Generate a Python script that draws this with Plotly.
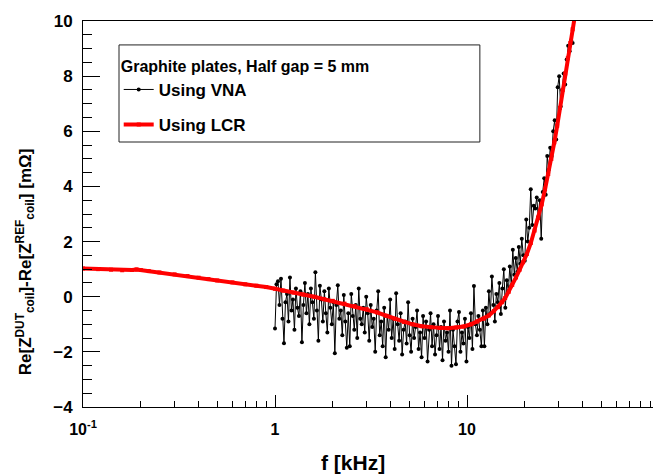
import numpy as np
import plotly.graph_objects as go

# ---------------- data ----------------
# LCR measurement (frequency in kHz, value in mOhm)
lcr_f = [0.1, 0.12, 0.14, 0.16, 0.18, 0.19, 0.2, 0.22, 0.25, 0.3, 0.35, 0.4, 0.45,
         0.5, 0.6, 0.7, 0.8, 0.9, 1.0, 1.1, 1.25, 1.4, 1.6, 1.8, 2.0, 2.3, 2.6,
         3.0, 3.4, 3.8, 4.2, 4.7, 5.2, 5.8, 6.5, 7.2, 8.0, 8.8, 9.6, 10.5, 11.3,
         12.2, 13.0, 13.8, 14.5, 15.2, 15.8, 16.5, 17.2, 18.0, 18.8, 19.6, 20.5,
         21.5, 22.5, 23.5, 24.5, 25.5, 26.5, 27.5, 28.5, 29.5, 30.5, 31.5, 32.5,
         33.5, 34.5, 35.5, 36.5]
lcr_v = [1.02, 1.0, 0.98, 0.96, 0.97, 0.99, 0.97, 0.93, 0.88, 0.81, 0.75, 0.69, 0.64,
         0.59, 0.52, 0.45, 0.40, 0.35, 0.29, 0.22, 0.15, 0.08, 0.0, -0.09, -0.15, -0.25, -0.34,
         -0.45, -0.57, -0.69, -0.80, -0.92, -1.0, -1.07, -1.11, -1.13, -1.14, -1.12, -1.08, -1.0, -0.9,
         -0.8, -0.68, -0.52, -0.38, -0.2, -0.05, 0.18, 0.43, 0.7, 0.98, 1.25, 1.55,
         1.95, 2.4, 2.85, 3.35, 3.9, 4.45, 5.0, 5.6, 6.2, 6.85, 7.5, 8.1,
         8.65, 9.2, 9.7, 10.2]

# VNA sweep: 200 log-spaced points between 1 and 35.5 kHz
vna_start, vna_stop, vna_n = 1.0, 35.5, 200
vna_f = np.geomspace(vna_start, vna_stop, vna_n)
vna_v = [
    -1.15, 0.45, 0.56, -0.3, 0.65, -0.8, -1.69, -0.2, 0.1, -0.9, 0.7, -0.5, -0.1, -1.2, 0.3, -0.4, -0.7, 0.2, -1.65, -0.3,
    0.5, -0.6, 0.1, -1.0, 0.3, -0.2, -0.8, 0.89, -0.5, -1.6, 0.4, -0.1, -0.9, 0.2, -0.6, -1.3, 0.3, -0.4, -1.0, -0.2,
    -2.05, -0.3, 0.42, -0.8, -0.5, -1.4, 0.06, -0.9, -1.85, -0.6, -1.8, 0.1, -0.7, -1.2, -0.3, -1.5, 0.3, -0.8, -1.0, -0.4,
    -1.3, 0.0, -0.6, -1.6, -0.3, -1.1, -0.8, -2.0, -0.5, 0.2, -1.4, -0.9, -1.8, -0.4, -2.2, -0.7, -1.2, -0.1, -1.5, -0.8,
    -1.9, 0.13, -1.0, -1.6, -0.6, -2.1, -1.2, -0.9, -1.7, -0.2, -1.4, -2.0, -0.8, -1.5, -1.1, -0.5, -1.9, -1.3, -2.2, -0.7,
    -1.5, -0.9, -2.35, -1.2, -0.6, -1.8, -1.0, -2.1, -1.4, -0.7, -1.9, -1.1, -2.3, -0.9, -1.6, -1.3, -2.0, -0.5, -2.5, -1.2,
    -1.8, -2.45, -0.9, -0.55, -2.0, -1.3, -1.7, -0.8, -2.35, -1.1, -1.5, -0.6, -1.9, 0.39, -1.0, -1.4, -0.7, -1.2, -1.8, -0.5,
    -1.8, -0.4, -1.0, 0.2, -0.6, 0.73, -0.3, -0.9, 0.1, -0.2, 0.5, -0.63, 0.3, 1.0, -0.4, 0.6, 0.2, 1.1, 0.4, 1.7,
    0.8, 1.4, 0.9, 1.8, 1.2, 2.1, 1.5, 1.3, 2.8, 2.0, 2.5, 3.9, 2.6, 3.3, 3.2, 3.6, 2.9, 3.5, 2.1, 3.8,
    4.3, 3.7, 5.1, 4.6, 5.4, 5.1, 6.0, 6.4, 5.7, 7.6, 8.0, 6.9, 7.5, 8.1, 7.7, 8.6, 9.1, 8.9, 9.3, 9.2,
]

x_tickvals = [0.1, 1, 10]
x_ticktext = ["10<sup>-1</sup>", "1", "10"]
y_tickvals = [-4, -2, 0, 2, 4, 6, 8, 10]

legend_title = "Graphite plates, Half gap = 5 mm"
name_vna = "Using VNA"
name_lcr = "Using LCR"

# ---------------- figure ----------------
FONT = "Liberation Sans, Arial, Helvetica, sans-serif"

fig = go.Figure()
fig.add_trace(go.Scatter(
    x=vna_f, y=vna_v, name=name_vna, mode="lines+markers",
    line=dict(color="black", width=1),
    marker=dict(color="black", size=4, symbol="circle"),
    legendgroup="a",
))
fig.add_trace(go.Scatter(
    x=lcr_f, y=lcr_v, name=name_lcr, mode="lines+markers",
    line=dict(color="#ff0000", width=4),
    marker=dict(color="#ff0000", size=4, symbol="square"),
    legendgroup="b",
))

# page body adds an 8px offset; size the figure so the plot lands where the reference has it
fig.update_layout(
    width=653, height=467,
    margin=dict(l=75, r=2, t=13, b=68, autoexpand=False),
    paper_bgcolor="white", plot_bgcolor="white",
    font=dict(family=FONT, size=16, color="black", weight="bold"),
    showlegend=True,
    legend=dict(
        x=0.062, y=0.922, xanchor="left", yanchor="top",
        bgcolor="rgba(0,0,0,0)", borderwidth=0,
        title=dict(text=legend_title, font=dict(size=16, weight="bold")),
        font=dict(size=17, weight="bold"),
        traceorder="grouped", tracegroupgap=10,
        itemwidth=30,
    ),
    xaxis=dict(
        type="log", range=[-1, 2], automargin=False,
        tickmode="array", tickvals=x_tickvals, ticktext=x_ticktext,
        ticks="inside", ticklen=12, tickwidth=1, tickcolor="black",
        minor=dict(dtick="D1", ticks="inside", ticklen=6, tickwidth=1,
                   tickcolor="black", showgrid=False),
        showline=True, linecolor="black", linewidth=1, mirror=True,
        showgrid=False, zeroline=False,
        tickfont=dict(size=16, weight="bold"),
        ticklabelstandoff=8,
    ),
    yaxis=dict(
        range=[-4, 10], automargin=False,
        tickmode="array", tickvals=y_tickvals,
        ticks="inside", ticklen=17, tickwidth=1, tickcolor="black",
        minor=dict(dtick=0.5, ticks="inside", ticklen=9, tickwidth=1,
                   tickcolor="black", showgrid=False),
        showline=True, linecolor="black", linewidth=1, mirror=True,
        showgrid=False, zeroline=False,
        tickfont=dict(size=17, weight="bold"),
        ticklabelstandoff=6,
    ),
    shapes=[dict(
        type="rect", xref="paper", yref="paper",
        x0=0.0625, x1=0.689, y0=0.6865, y1=0.938,
        line=dict(color="#222", width=1), fillcolor="rgba(0,0,0,0)",
        layer="above",
    )],
    annotations=[
        dict(text="f [kHz]", xref="paper", yref="paper", x=0.469, y=0,
             xanchor="center", yanchor="middle", yshift=-55, showarrow=False,
             font=dict(size=21, weight="bold")),
        dict(text="Re[Z<sup>DUT</sup><sub>coil</sub>]-Re[Z<sup>REF</sup><sub>coil</sub>] [mΩ]",
             xref="paper", yref="paper", x=0, y=0.375, xshift=-58,
             xanchor="center", yanchor="middle", textangle=-90, showarrow=False,
             font=dict(size=17, weight="bold")),
    ],
)

fig.write_html("out.html")
